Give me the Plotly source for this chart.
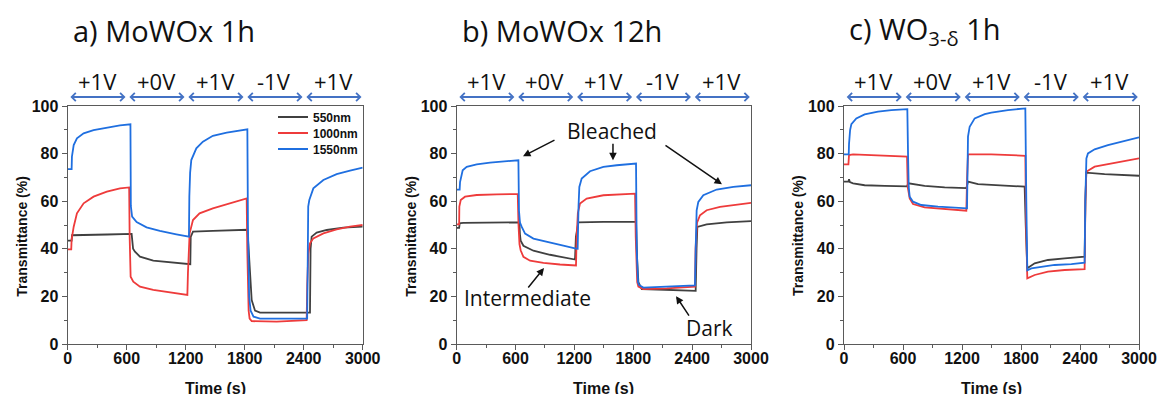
import plotly.graph_objects as go

# ---------------- data ----------------
wavelengths = ["550nm", "1000nm", "1550nm"]
panel_titles = ["a) MoWOx 1h", "b) MoWOx 12h", "c) WO<sub>3-δ</sub> 1h"]
voltage_labels = ["+1V", "+0V", "+1V", "-1V", "+1V"]
voltage_bounds = [0, 600, 1200, 1800, 2400, 3000]
x_ticks = [0, 600, 1200, 1800, 2400, 3000]
y_ticks = [0, 20, 40, 60, 80, 100]

# panel a
a_t_550 = [0, 40, 44, 60, 78, 400, 650, 656, 665, 684, 735, 870, 1038, 1247, 1251, 1274, 1476, 1827, 1837, 1854,
           1871, 1905, 1956, 2464, 2470, 2481, 2532, 2634, 2803, 3000]
a_y_550 = [43.4, 43.4, 45.7, 45.7, 46.0, 46.0, 46.3, 42.0, 40.0, 38.8, 36.7, 35.0, 34.2, 33.5, 45.0, 47.2, 47.5, 48.0, 42.0, 30.0,
           18.5, 14.0, 13.2, 13.2, 40.0, 45.1, 46.8, 47.9, 48.9, 49.3]
a_t_1000 = [0, 36, 40, 50, 61, 94, 162, 263, 398, 532, 625, 630, 640, 667, 735, 870, 1038, 1217, 1223, 1232,
            1240, 1274, 1341, 1476, 1617, 1820, 1826, 1840, 1850, 1871, 2125, 2430, 2436, 2447, 2464, 2498, 2600, 2735, 2871, 3000]
a_y_1000 = [39.8, 39.8, 44.0, 46.5, 49.3, 54.9, 59.1, 61.9, 64.0, 65.4, 65.8, 45.0, 28.3, 26.2, 24.1, 22.7, 21.6, 20.6, 30.0, 42.0,
            46.5, 52.1, 54.9, 57.0, 58.8, 61.2, 40.0, 14.0, 10.7, 9.6, 9.4, 10.0, 25.0, 38.0, 42.3, 44.4, 46.5, 48.2, 49.3, 50.0]
a_t_1550 = [0, 40, 43, 50, 61, 94, 162, 263, 398, 532, 638, 642, 655, 701, 802, 937, 1105, 1233, 1237, 1245,
            1257, 1308, 1375, 1476, 1617, 1827, 1833, 1845, 1860, 1890, 1956, 2125, 2435, 2440, 2446, 2457, 2498, 2600, 2735, 2871, 3000]
a_y_1550 = [73.5, 73.5, 78.7, 81.0, 83.6, 86.4, 88.5, 89.9, 91.0, 91.9, 92.3, 58.0, 53.5, 51.2, 49.0, 47.5, 46.1, 45.1, 62.0, 72.0,
            77.3, 82.2, 85.0, 87.5, 88.8, 90.2, 50.0, 20.0, 14.0, 11.5, 10.7, 10.6, 10.7, 30.0, 57.7, 60.5, 65.4, 68.9, 71.4, 72.8, 74.1]

# panel b
b_t_550 = [0, 25, 30, 40, 68, 639, 645, 652, 680, 782, 951, 1206, 1215, 1240, 1495, 1828, 1840, 1852, 1886, 2141,
           2436, 2445, 2453, 2548, 2752, 3000]
b_y_550 = [48.8, 48.8, 50.6, 50.8, 50.9, 51.1, 46.0, 43.4, 41.3, 39.2, 37.5, 35.5, 45.0, 51.1, 51.3, 51.3, 35.0, 26.0, 23.1, 22.7,
           22.3, 40.0, 49.2, 50.3, 51.1, 51.6]
b_t_1000 = [0, 25, 27, 41, 85, 204, 408, 622, 630, 640, 652, 680, 748, 884, 1053, 1216, 1223, 1235, 1257, 1325,
            1495, 1631, 1818, 1825, 1840, 1852, 1903, 2141, 2429, 2435, 2450, 2480, 2548, 2684, 2854, 3000]
b_y_1000 = [50.3, 50.3, 57.7, 60.5, 61.9, 62.6, 62.9, 63.0, 50.0, 42.0, 39.4, 36.6, 35.0, 34.1, 33.4, 33.0, 45.0, 55.0, 59.0, 61.1,
            62.5, 62.8, 63.2, 45.0, 26.0, 24.1, 23.1, 23.4, 24.1, 40.0, 51.0, 54.1, 56.2, 57.6, 58.6, 59.3]
b_t_1550 = [0, 30, 34, 45, 61, 102, 204, 340, 476, 629, 635, 645, 663, 697, 782, 951, 1087, 1216, 1233, 1242,
            1250, 1274, 1359, 1495, 1631, 1828, 1835, 1848, 1858, 1903, 2141, 2429, 2436, 2446, 2463, 2514, 2650, 2820, 3000]
b_y_1550 = [64.9, 64.9, 68.0, 70.2, 73.0, 74.4, 75.5, 76.2, 76.8, 77.2, 56.0, 51.0, 49.2, 46.4, 44.3, 42.5, 41.3, 40.1, 40.0, 58.0,
            66.0, 69.5, 72.6, 74.4, 75.1, 75.8, 40.0, 26.0, 24.8, 23.7, 24.1, 24.6, 40.0, 56.2, 59.7, 62.5, 64.9, 66.0, 66.7]

# panel c
c_t_550 = [0, 45, 51, 60, 92, 210, 414, 641, 648, 655, 820, 1024, 1244, 1255, 1261, 1363, 1498, 1837, 1848, 1864,
           1939, 2074, 2244, 2447, 2455, 2464, 2650, 3000]
c_y_550 = [68.2, 68.2, 69.2, 68.0, 67.5, 66.7, 66.4, 66.2, 67.0, 67.5, 66.4, 65.8, 65.5, 67.0, 68.2, 67.2, 66.8, 66.1, 50.0, 31.8,
           33.9, 35.3, 36.0, 36.7, 60.0, 72.0, 71.4, 70.7]
c_t_1000 = [0, 45, 51, 92, 641, 648, 668, 702, 820, 1024, 1244, 1252, 1261, 1498, 1844, 1852, 1864, 1939, 2074, 2244,
            2447, 2455, 2464, 2549, 2718, 3000]
c_y_1000 = [75.5, 75.5, 79.4, 79.7, 78.7, 66.0, 61.2, 58.8, 57.4, 56.6, 56.0, 70.0, 79.7, 79.7, 79.1, 50.0, 27.6, 29.0, 30.4, 31.1,
            31.5, 60.0, 72.4, 74.5, 75.9, 78.0]
c_t_1550 = [0, 48, 51, 55, 62, 75, 125, 210, 346, 481, 644, 651, 658, 668, 702, 786, 956, 1251, 1255, 1261,
            1278, 1329, 1431, 1498, 1667, 1844, 1854, 1860, 1864, 1905, 2006, 2142, 2312, 2447, 2454, 2465, 2481, 2549, 2684, 2854, 3000]
c_y_1550 = [79.7, 79.7, 84.0, 88.0, 89.9, 92.4, 94.8, 96.5, 97.6, 98.3, 98.7, 80.0, 66.0, 61.9, 59.8, 58.4, 57.7, 57.0, 75.0, 87.1,
            91.3, 94.8, 96.6, 97.2, 98.3, 99.0, 60.0, 38.0, 31.0, 31.8, 32.5, 33.2, 33.6, 34.2, 60.0, 78.0, 80.1, 81.8, 83.6, 85.4, 86.8]

# panel b state labels: (text, text_x, text_y) and arrows (tail_x, tail_y, head_x, head_y)
state_labels = [("Bleached", 1584, 89.4), ("Intermediate", 717, 19.3), ("Dark", 2582, 6.7)]
state_arrows = [(1012, 86.0, 676, 78.9), (1593, 84.8, 1593, 77.2), (2113, 83.9, 2704, 67.1),
                (717, 23.1, 890, 31.9), (2378, 11.3, 2236, 20.1)]

# ---------------- styling ----------------
W, H = 1158, 394
colors = {"550nm": "#404040", "1000nm": "#EE3B3B", "1550nm": "#1F6FE0"}
arrow_blue = "#4472C4"
x_dom_px = [(67.7, 362.7), (456.7, 751.0), (844.0, 1139.0)]
y_dom = [50 / H, 288 / H]
legend_rows_px = [117, 133, 149]

series = [
    [(a_t_550, a_y_550), (a_t_1000, a_y_1000), (a_t_1550, a_y_1550)],
    [(b_t_550, b_y_550), (b_t_1000, b_y_1000), (b_t_1550, b_y_1550)],
    [(c_t_550, c_y_550), (c_t_1000, c_y_1000), (c_t_1550, c_y_1550)],
]
legend_ids = ["legend", "legend2", "legend3"]

fig = go.Figure()
annotations = []
layout = {}
for p in range(3):
    sfx = "" if p == 0 else str(p + 1)
    xa, ya = "x" + sfx, "y" + sfx
    for k, name in enumerate(wavelengths):
        t, v = series[p][k]
        fig.add_trace(go.Scatter(x=t, y=v, mode="lines", name=name, xaxis=xa, yaxis=ya,
                                 line=dict(color=colors[name], width=1.8),
                                 legend=legend_ids[k], showlegend=(p == 0)))
    x0, x1 = x_dom_px[p]
    axis_common = dict(showgrid=False, zeroline=False, showline=True, linecolor="#5a5a5a", linewidth=1.3,
                       mirror=True, ticks="outside", ticklen=5, tickwidth=1.2, tickcolor="#5a5a5a",
                       automargin=False,
                       tickfont=dict(family="Liberation Sans", size=16, color="#111", weight="bold"))
    layout["xaxis" + sfx] = dict(domain=[x0 / W, x1 / W], range=[0, 3000], tickvals=x_ticks,
                                 anchor=ya, ticklabelstandoff=-5,
                                 minor=dict(dtick=300, ticks="outside", ticklen=3, tickcolor="#5a5a5a"),
                                 **axis_common)
    layout["yaxis" + sfx] = dict(domain=y_dom, range=[0, 100], tickvals=y_ticks, anchor=xa,
                                 minor=dict(dtick=10, ticks="outside", ticklen=3, tickcolor="#5a5a5a"),
                                 **axis_common)
    # panel title
    annotations.append(dict(text=panel_titles[p], xref="paper", yref="paper", x=(x0 + 3) / W, y=(H - 31) / H,
                            xanchor="left", yanchor="middle", showarrow=False,
                            font=dict(family="Open Sans", size=29, color="#111")))
    # axis titles
    annotations.append(dict(text="<b>Transmittance (%)</b>", xref="paper", yref="paper",
                            x=(x0 - 46) / W, y=(H - 236) / H, textangle=-90, showarrow=False,
                            xanchor="center", yanchor="middle",
                            font=dict(family="Liberation Sans", size=14, color="#111")))
    annotations.append(dict(text="<b>Time (s)</b>", xref="paper", yref="paper",
                            x=(x0 + x1) / 2 / W, y=(H - 388) / H, showarrow=False,
                            xanchor="center", yanchor="middle",
                            font=dict(family="Liberation Sans", size=16, color="#111")))
    # voltage labels + double arrows
    for i, lab in enumerate(voltage_labels):
        s, e = voltage_bounds[i], voltage_bounds[i + 1]
        annotations.append(dict(text=lab, xref=xa, yref="paper", x=(s + e) / 2, y=(H - 81) / H,
                                showarrow=False, xanchor="center", yanchor="middle",
                                font=dict(family="Open Sans", size=22, color="#111")))
        annotations.append(dict(text="", xref=xa, yref="paper", x=e - 12, y=(H - 97) / H,
                                axref=xa, ax=s + 12, ayref="pixel", ay=0, showarrow=True,
                                arrowside="end+start", arrowhead=4, startarrowhead=4,
                                arrowsize=0.8, startarrowsize=0.8, arrowwidth=2, arrowcolor=arrow_blue,
                                standoff=0, startstandoff=0))

# panel b state annotations
for txt, tx, ty in state_labels:
    annotations.append(dict(text=txt, xref="x2", yref="y2", x=tx, y=ty, showarrow=False,
                            xanchor="center", yanchor="middle",
                            font=dict(family="Open Sans", size=21, color="#111")))
for tx, ty, hx, hy in state_arrows:
    annotations.append(dict(text="", xref="x2", yref="y2", x=hx, y=hy, axref="x2", ayref="y2", ax=tx, ay=ty,
                            showarrow=True, arrowhead=2, arrowsize=1, arrowwidth=1.5, arrowcolor="#111",
                            standoff=0, startstandoff=0))

for k, lid in enumerate(legend_ids):
    layout[lid] = dict(x=273 / W, y=(H - legend_rows_px[k]) / H, xanchor="left", yanchor="middle",
                       bgcolor="rgba(0,0,0,0)", itemwidth=30,
                       font=dict(family="Liberation Sans", size=12, color="#111", weight="bold"))

fig.update_layout(
    width=W, height=H, margin=dict(l=0, r=0, t=0, b=0, autoexpand=False),
    paper_bgcolor="white", plot_bgcolor="white",
    annotations=annotations,
    **layout,
)

fig.write_html("out.html", config={"displayModeBar": False},
               post_script="document.body.style.margin='0px';")
